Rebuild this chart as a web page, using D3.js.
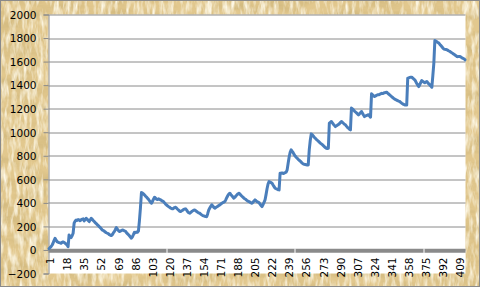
<!DOCTYPE html>
<html>
<head>
<meta charset="utf-8">
<script src="https://cdn.jsdelivr.net/npm/d3@7"></script>
<style>
  body { margin: 0; background: #fff; }
  svg { display: block; }
  .tick text { font-family: "DejaVu Sans", sans-serif; font-size: 10.5px; fill: #000; }
</style>
</head>
<body>
<div id="chart-area"></div>
<script>
/*
*    lineChart.js
*    running total line chart on a paper background
*/

// categories are just the row numbers 1..415
var categories = d3.range(1, 416);

var values = [
  10,20,28,40,57,80,99,85,71,66,
  62,60,57,64,68,65,58,50,42,28,
  127,115,105,120,142,227,245,255,250,258,
  255,248,256,262,264,247,258,269,262,250,
  241,255,269,260,250,241,232,224,215,207,
  198,190,180,170,165,160,152,146,142,138,
  130,126,122,130,145,156,172,190,178,165,
  156,160,165,170,168,162,160,148,138,130,
  120,110,100,112,130,150,146,152,150,160,
  250,357,487,484,476,468,458,450,440,430,
  418,406,397,412,432,448,440,432,428,434,
  430,426,420,414,410,400,390,382,375,368,
  362,356,352,349,354,360,363,355,346,338,
  330,326,332,338,344,348,349,338,325,316,
  312,318,326,332,338,340,334,326,320,315,
  312,305,298,292,289,286,284,283,310,340,
  356,370,383,374,362,354,360,366,372,378,
  383,390,396,402,406,411,428,446,462,476,
  482,470,460,450,440,448,458,468,476,482,
  474,465,456,448,440,434,428,420,415,411,
  406,400,397,406,416,425,418,410,406,402,
  390,378,368,386,405,425,470,520,560,580,
  576,572,567,552,538,524,520,516,512,510,
  652,650,654,650,652,656,660,680,737,790,
  830,850,838,826,810,798,788,779,770,762,
  755,746,738,731,728,726,724,722,722,850,
  930,986,978,968,958,949,940,932,924,916,
  908,901,894,886,878,870,864,862,864,1077,
  1084,1091,1080,1068,1058,1048,1054,1060,1065,1072,
  1082,1091,1084,1076,1068,1063,1052,1042,1034,1026,
  1020,1205,1198,1190,1180,1172,1164,1156,1148,1156,
  1166,1176,1160,1146,1133,1138,1142,1146,1148,1138,
  1128,1326,1318,1310,1303,1308,1314,1318,1318,1322,
  1326,1330,1328,1332,1336,1338,1340,1332,1325,1318,
  1310,1302,1295,1288,1281,1277,1273,1268,1264,1261,
  1254,1247,1241,1236,1232,1234,1232,1459,1462,1466,
  1468,1468,1460,1452,1445,1430,1414,1400,1388,1405,
  1422,1439,1432,1425,1420,1426,1431,1420,1410,1402,
  1392,1382,1480,1587,1779,1774,1768,1762,1757,1746,
  1736,1726,1716,1706,1704,1702,1700,1695,1690,1686,
  1680,1674,1668,1663,1656,1650,1643,1642,1644,1643,
  1638,1632,1628,1624,1615
];

var yTicks = [-200, 0, 200, 400, 600, 800, 1000, 1200, 1400, 1600, 1800, 2000];
var xTickLabels = [1, 18, 35, 52, 69, 86, 103, 120, 137, 154, 171, 188, 205,
                   222, 239, 256, 273, 290, 307, 324, 341, 358, 375, 392, 409];
// little white marks that show on the thick horizontal axis
var axisMarks = [118, 246, 374];


LineChart = function(_parentElement){
  var vis = this;
  this.parentElement = _parentElement;
  this.initVis();
};

LineChart.prototype.initVis = function(){
  var vis = this;

  /************* DEFINING STATIC VALUES***********************/
  vis.margin = { left: 48.5, right: 14.5, top: 14.5, bottom: 13.5 };
  vis.width = 480 - vis.margin.left - vis.margin.right;
  vis.height = 287 - vis.margin.top - vis.margin.bottom;

  vis.svg = d3.select(vis.parentElement)
      .append("svg")
      .attr("width", 480)
      .attr("height", 287);

  // paper texture: a darker fibrous layer and a light mottled layer
  var defs = vis.svg.append("defs");
  var f = defs.append("filter").attr("id", "paper")
      .attr("x", 0).attr("y", 0).attr("width", "100%").attr("height", "100%");
  f.append("feTurbulence")
      .attr("type", "fractalNoise")
      .attr("baseFrequency", "0.03 0.09")
      .attr("numOctaves", 4)
      .attr("seed", 7)
      .attr("result", "noise");
  f.append("feColorMatrix")
      .attr("in", "noise")
      .attr("type", "matrix")
      .attr("values", "0 0 0 0 0.66  0 0 0 0 0.50  0 0 0 0 0.22  2.6 0 0 0 -1.05");

  var f2 = defs.append("filter").attr("id", "paperLight")
      .attr("x", 0).attr("y", 0).attr("width", "100%").attr("height", "100%");
  f2.append("feTurbulence")
      .attr("type", "fractalNoise")
      .attr("baseFrequency", "0.25 0.06")
      .attr("numOctaves", 3)
      .attr("seed", 21)
      .attr("result", "noise");
  f2.append("feColorMatrix")
      .attr("in", "noise")
      .attr("type", "matrix")
      .attr("values", "0 0 0 0 0.98  0 0 0 0 0.93  0 0 0 0 0.78  0 2.4 0 0 -1.0");

  vis.svg.append("rect")
      .attr("width", 480).attr("height", 287)
      .attr("fill", "#e2c88e");
  vis.svg.append("rect")
      .attr("width", 480).attr("height", 287)
      .attr("filter", "url(#paper)");
  vis.svg.append("rect")
      .attr("width", 480).attr("height", 287)
      .attr("filter", "url(#paperLight)");
  vis.svg.append("rect")
      .attr("x", 0.5).attr("y", 0.5)
      .attr("width", 479).attr("height", 286)
      .attr("fill", "none")
      .attr("stroke", "#8a8a8a");

  vis.g = vis.svg.append("g")
      .attr("transform", "translate(" + vis.margin.left + ", " + vis.margin.top + ")");

  vis.x = d3.scaleBand()
      .domain(categories)
      .range([0, vis.width])
      .padding(0);

  vis.y = d3.scaleLinear()
      .domain([-200, 2000])
      .range([vis.height, 0]);

  // plot area
  vis.g.append("rect")
      .attr("width", vis.width)
      .attr("height", vis.height)
      .attr("fill", "#fff");

  // gridlines
  vis.g.selectAll("line.grid")
      .data(yTicks.filter(function(d){ return d > -200; }))
      .enter().append("line")
      .attr("class", "grid")
      .attr("x1", 0)
      .attr("x2", vis.width)
      .attr("y1", function(d){ return Math.round(vis.y(d)) + 0.5; })
      .attr("y2", function(d){ return Math.round(vis.y(d)) + 0.5; })
      .attr("stroke", "#8a8a8a")
      .attr("stroke-width", 1);

  // y axis
  vis.yAxisCall = d3.axisLeft(vis.y)
      .tickValues(yTicks)
      .tickFormat(d3.format("d"))
      .tickSize(5)
      .tickPadding(7);
  vis.yAxis = vis.g.append("g")
      .attr("class", "y axis")
      .call(vis.yAxisCall);
  vis.yAxis.select(".domain").attr("stroke", "#8a8a8a");
  vis.yAxis.selectAll(".tick line").attr("stroke", "#8a8a8a");
  vis.yAxis.selectAll(".tick text").attr("dy", "0.36em");

  // thick horizontal axis at zero
  vis.g.append("line")
      .attr("x1", 0).attr("x2", vis.width)
      .attr("y1", vis.y(0) + 0.8).attr("y2", vis.y(0) + 0.8)
      .attr("stroke", "#8a8a8a")
      .attr("stroke-width", 4.2);

  vis.g.selectAll("line.mark")
      .data(axisMarks)
      .enter().append("line")
      .attr("class", "mark")
      .attr("x1", function(d){ return Math.round(vis.x(d)) + 0.5; })
      .attr("x2", function(d){ return Math.round(vis.x(d)) + 0.5; })
      .attr("y1", vis.y(0) - 1.5)
      .attr("y2", vis.y(0) + 3)
      .attr("stroke", "#fff");

  // x axis labels, rotated
  vis.xAxisCall = d3.axisBottom(vis.x)
      .tickValues(xTickLabels)
      .tickSize(0);
  vis.xAxis = vis.g.append("g")
      .attr("class", "x axis")
      .attr("transform", "translate(0," + vis.y(0) + ")")
      .call(vis.xAxisCall);
  vis.xAxis.select(".domain").remove();
  vis.xAxis.selectAll(".tick text")
      .attr("transform", "rotate(-90)")
      .attr("text-anchor", "end")
      .attr("x", -7.5)
      .attr("y", 0)
      .attr("dy", "0.5em");

  vis.updateVis();
};

LineChart.prototype.updateVis = function(){
  var vis = this;

  var half = vis.x.bandwidth() / 2;
  vis.line = d3.line()
      .x(function(d, i){ return vis.x(categories[i]) + half; })
      .y(function(d){ return vis.y(d); });

  vis.g.append("path")
      .datum(values)
      .attr("fill", "none")
      .attr("stroke", "#4a7ebb")
      .attr("stroke-width", 3)
      .attr("stroke-linejoin", "round")
      .attr("stroke-linecap", "round")
      .attr("d", vis.line);
};

var chart = new LineChart("#chart-area");
</script>
</body>
</html>
